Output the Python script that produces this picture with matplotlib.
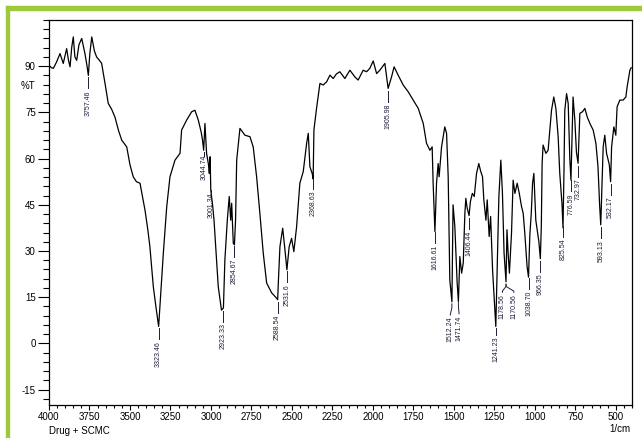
import numpy as np
import matplotlib
matplotlib.use("Agg")
import matplotlib.pyplot as plt
from matplotlib.patches import Rectangle
from matplotlib.ticker import MultipleLocator

plt.rcParams['font.family'] = ['Liberation Sans', 'DejaVu Sans']
plt.rcParams['axes.unicode_minus'] = False

# FTIR spectrum (wavenumber 1/cm, %T)
wavenumber = [
    4000, 3985, 3973, 3953, 3932, 3912, 3891, 3880, 3870, 3860, 3850, 3840,
    3829, 3815, 3798, 3778, 3765, 3757, 3748, 3736, 3720, 3706, 3690, 3675,
    3654, 3634, 3613, 3593, 3570, 3551, 3520, 3500, 3480, 3460, 3438, 3420,
    3407, 3390, 3377, 3356, 3340, 3323, 3315, 3305, 3294, 3273, 3253, 3222,
    3191, 3181, 3150, 3119, 3099, 3078, 3060, 3052, 3045, 3037, 3027, 3015,
    3010, 3005, 3001, 2990, 2981, 2965, 2955, 2935, 2923, 2914, 2899, 2887,
    2878, 2872, 2862, 2855, 2848, 2841, 2821, 2790, 2759, 2739, 2718, 2698,
    2677, 2656, 2625, 2600, 2588, 2584, 2574, 2557, 2543, 2531, 2517, 2502,
    2488, 2471, 2451, 2430, 2409, 2399, 2389, 2374, 2369, 2364, 2348, 2327,
    2307, 2286, 2265, 2245, 2225, 2204, 2173, 2142, 2111, 2091, 2060, 2039,
    2019, 1998, 1977, 1957, 1926, 1906, 1885, 1869, 1844, 1813, 1782, 1751,
    1720, 1689, 1669, 1648, 1634, 1628, 1617, 1607, 1597, 1591, 1576, 1556,
    1545, 1535, 1525, 1512, 1505, 1494, 1480, 1472, 1463, 1452, 1442, 1432,
    1426, 1418, 1406, 1398, 1386, 1374, 1360, 1346, 1335, 1323, 1315, 1302,
    1294, 1282, 1273, 1261, 1241, 1233, 1222, 1210, 1200, 1190, 1178, 1172,
    1165, 1157, 1144, 1134, 1123, 1109, 1096, 1082, 1072, 1062, 1048, 1039,
    1031, 1022, 1014, 1006, 994, 975, 966, 960, 955, 949, 932, 918,
    907, 897, 883, 870, 856, 846, 832, 826, 820, 815, 804, 794,
    784, 777, 770, 764, 753, 743, 733, 726, 722, 706, 691, 677,
    660, 640, 623, 610, 600, 593, 587, 578, 568, 557, 540, 532,
    526, 512, 500, 492, 475, 455, 438, 430, 413, 405,
]
transmittance = [
    90.3, 89.5, 89.3, 91.4, 94.1, 90.9, 95.7, 92.0, 89.8, 96.0, 99.5, 93.0,
    91.9, 97.0, 99.0, 94.1, 90.0, 87.0, 94.0, 99.5, 95.0, 93.0, 92.0, 90.9,
    84.4, 77.9, 76.0, 73.5, 69.0, 66.0, 63.8, 58.0, 54.1, 52.5, 52.0, 47.0,
    43.2, 37.0, 31.4, 18.5, 12.0, 5.5, 12.0, 20.0, 29.3, 44.4, 54.1, 59.5,
    61.7, 69.3, 72.5, 75.2, 75.7, 72.5, 68.5, 66.0, 62.7, 71.4, 61.7, 58.0,
    55.2, 60.6, 49.8, 45.0, 40.0, 27.0, 18.5, 10.8, 11.5, 27.0, 40.0, 47.7,
    40.0, 45.5, 32.5, 32.0, 40.0, 59.5, 69.8, 67.6, 67.1, 63.8, 54.1, 42.3,
    29.3, 19.6, 16.4, 15.0, 14.2, 19.6, 31.4, 37.4, 30.4, 23.9, 31.4, 34.1,
    29.8, 37.9, 52.0, 55.8, 65.0, 68.2, 57.4, 55.0, 53.4, 69.3, 76.3, 84.4,
    83.9, 84.9, 87.1, 86.0, 87.5, 88.2, 86.0, 88.7, 86.5, 85.5, 88.7, 88.2,
    89.3, 91.7, 87.6, 88.7, 90.9, 82.8, 86.5, 89.8, 87.1, 83.9, 81.7, 79.0,
    76.3, 71.4, 65.0, 62.7, 63.8, 52.0, 36.3, 52.0, 58.4, 54.1, 63.8, 70.3,
    68.2, 54.1, 20.6, 13.5, 45.0, 38.0, 20.0, 13.6, 28.2, 22.8, 26.1, 42.3,
    47.1, 44.0, 41.5, 46.0, 48.7, 47.7, 55.2, 58.4, 56.0, 54.1, 46.6, 40.0,
    46.6, 34.7, 41.2, 23.9, 5.5, 22.8, 47.7, 59.5, 48.7, 29.3, 20.0, 36.9,
    29.3, 22.8, 35.8, 53.0, 48.7, 52.0, 48.7, 44.4, 42.3, 35.8, 25.0, 21.5,
    35.0, 42.3, 52.0, 55.2, 40.0, 33.0, 27.5, 37.9, 58.4, 64.4, 61.7, 62.7,
    69.3, 75.7, 80.0, 76.3, 67.1, 55.2, 45.0, 37.5, 56.0, 75.7, 81.1, 77.9,
    60.0, 53.0, 67.0, 80.0, 72.5, 62.0, 58.5, 69.3, 74.7, 75.2, 76.3, 73.6,
    71.4, 69.3, 65.0, 57.4, 45.0, 38.5, 48.7, 63.8, 67.6, 61.7, 58.0, 52.5,
    63.8, 70.3, 67.6, 76.8, 79.0, 79.0, 80.0, 83.3, 88.7, 89.5,
]

peak_labels = [
    "3757.46", "3323.46", "3044.74", "3001.34", "2923.33", "2854.67",
    "2588.54", "2531.6", "2368.63", "1905.98", "1616.61", "1512.24",
    "1471.74", "1406.44", "1241.23", "1038.70", "966.35", "825.54",
    "776.59", "732.97", "593.13", "532.17",
]

xticks = [4000, 3750, 3500, 3250, 3000, 2750, 2500, 2250, 2000, 1750,
          1500, 1250, 1000, 750, 500]
yticks = [-15, 0, 15, 30, 45, 60, 75, 90]

fig = plt.figure(figsize=(6.42, 4.38), dpi=100)

# green frame of the source figure (left and top edges)
green = '#9DC93B'
fig.patches.append(Rectangle((6 / 642, 0), 3.5 / 642, 1 - 6 / 438,
                             transform=fig.transFigure, color=green, zorder=0))
fig.patches.append(Rectangle((6 / 642, 1 - 9.5 / 438), 1, 3.5 / 438,
                             transform=fig.transFigure, color=green, zorder=0))

ax = fig.add_axes([49 / 642, 33 / 438, 583 / 642, 385 / 438])
ax.plot(wavenumber, transmittance, color='black', linewidth=0.9)

ax.set_xlim(4000, 400)
ax.set_ylim(-20, 105)
ax.set_xticks(xticks)
ax.set_yticks(yticks)
ax.xaxis.set_minor_locator(MultipleLocator(50))
ax.yaxis.set_minor_locator(MultipleLocator(3))
ax.tick_params(axis='both', which='major', labelsize=7, direction='out',
               width=0.8, pad=1.5)
ax.tick_params(axis='y', which='major', length=8)
ax.tick_params(axis='y', which='minor', length=4.5, width=0.8)
ax.tick_params(axis='x', which='major', length=3.5)
ax.tick_params(axis='x', which='minor', length=2.5, width=0.8)
for sp in ax.spines.values():
    sp.set_linewidth(0.9)

# peak labels: short leader under each dip, then the value rotated
lab_col = '#1c1c3a'
gap = 5.0
close_gap = {"3044.74": 1.7, "3001.34": 1.7, "1241.23": 3.5}
x_shift = {"1512.24": 10, "1471.74": -4}
for lab in peak_labels:
    wn = float(lab)
    dip = np.interp(wn, wavenumber[::-1], transmittance[::-1])
    top = dip - close_gap.get(lab, gap)
    xl = wn + x_shift.get(lab, 0)
    ax.plot([wn, wn, xl], [dip - 0.8, dip - 2.0, top + 0.6],
            color=lab_col, linewidth=0.7)
    ax.text(xl, top, lab, rotation=90, ha='center', va='top',
            fontsize=5, color=lab_col)

# bracketed pair under the 1178 band
pair = ["1178.56", "1170.56"]
wn = 1178
dip = np.interp(wn, wavenumber[::-1], transmittance[::-1])
top = dip - 4.0
for lab, xl in zip(pair, [1200, 1130]):
    ax.plot([wn, wn, xl, xl], [dip - 0.8, dip - 1.5, dip - 3.0, top + 0.6],
            color=lab_col, linewidth=0.7)
    ax.text(xl, top, lab, rotation=90, ha='center', va='top',
            fontsize=5, color=lab_col)

fig.text(28 / 642, 1 - 86 / 438, '%T', fontsize=7, ha='center', va='center')
fig.text(49 / 642, 1 - 431 / 438, 'Drug + SCMC', fontsize=7,
         ha='left', va='center')
fig.text(630 / 642, 1 - 429 / 438, '1/cm', fontsize=7,
         ha='right', va='center')

fig.savefig('out.png', dpi=100)
